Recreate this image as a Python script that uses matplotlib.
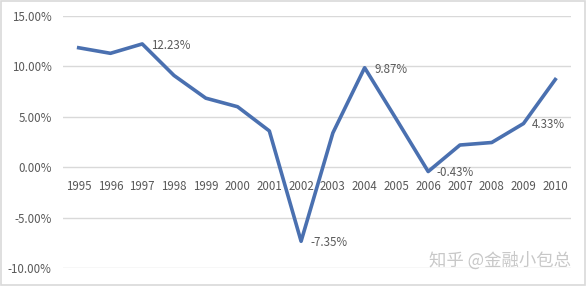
import matplotlib
matplotlib.use("Agg")
import matplotlib.pyplot as plt
from matplotlib.ticker import FuncFormatter

plt.rcParams['font.family'] = ['Noto Sans CJK SC', 'DejaVu Sans']

# Data (growth rate, %)
years = [1995, 1996, 1997, 1998, 1999, 2000, 2001, 2002,
         2003, 2004, 2005, 2006, 2007, 2008, 2009, 2010]
growth = [11.85, 11.3, 12.23, 9.1, 6.85, 6.0, 3.6, -7.35,
          3.4, 9.87, 4.75, -0.43, 2.2, 2.45, 4.33, 8.7]
year_labels = [str(y) for y in years]
labeled_years = [1997, 2002, 2004, 2006, 2009]

text_color = "#595959"
line_color = "#4a70b0"

fig = plt.figure(figsize=(5.87, 2.86), dpi=100)
ax = fig.add_axes([0.107, 0.063, 0.866, 0.881])

x = list(range(len(years)))
ax.plot(x, growth, color=line_color, linewidth=2.6, solid_joinstyle="round")

ax.set_ylim(-10, 15)
ax.set_xlim(-0.5, len(years) - 0.5)
ax.set_yticks([-10, -5, 0, 5, 10, 15])
ax.yaxis.set_major_formatter(FuncFormatter(lambda v, p: f"{v:.2f}%"))
ax.grid(axis="y", color="#d9d9d9", linewidth=1)
ax.set_axisbelow(True)

ax.set_xticks(x)
ax.set_xticklabels(year_labels)
ax.spines["bottom"].set_position(("data", 0))
for s in ["top", "right", "left", "bottom"]:
    ax.spines[s].set_visible(False)
ax.tick_params(axis="both", length=0, labelsize=8.3, colors=text_color)
ax.tick_params(axis="x", pad=9)
ax.tick_params(axis="y", pad=8)

# Data labels
offsets = {1997: (6, -1), 2002: (7, -1), 2004: (7, -1), 2006: (6, -1), 2009: (6, -0.5)}
for i, (yr, val) in enumerate(zip(years, growth)):
    if yr in labeled_years:
        dx, dy = offsets[yr]
        ax.annotate(f"{val:.2f}%", (i, val), xytext=(dx, dy),
                    textcoords="offset points", fontsize=8.3, color=text_color,
                    ha="left", va="center")

# Watermark
fig.text(0.972, 0.09, "知乎 @金融小包总", fontsize=12.5, color="#c8c8c8",
         ha="right", va="center")

# Light outer border
fig.patches.append(plt.Rectangle((0.002, 0.003), 0.995, 0.994, transform=fig.transFigure,
                                 fill=False, edgecolor="#d9d9d9", linewidth=1.2))

fig.savefig("out.png", dpi=100)
